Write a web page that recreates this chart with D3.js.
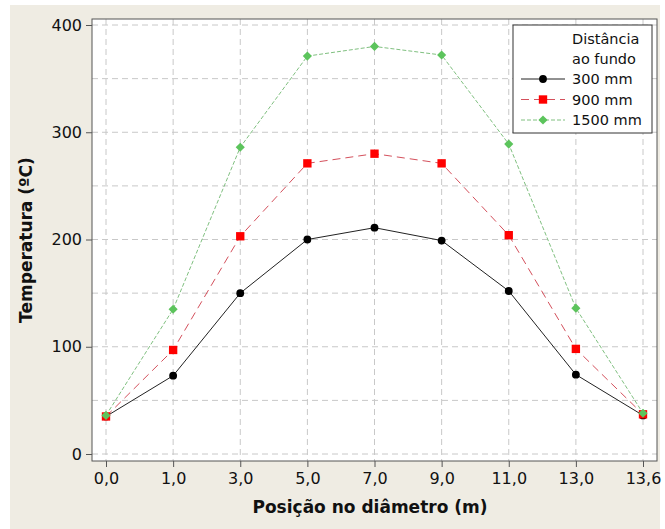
<!DOCTYPE html>
<html>
<head>
<meta charset="utf-8">
<script src="https://cdn.jsdelivr.net/npm/d3@7"></script>
<style>
  body { margin: 0; background: #ffffff; }
  text { font-family: "DejaVu Sans", Verdana, sans-serif; }
</style>
</head>
<body>
<svg id="vis"></svg>
<script>
const WIDTH = 665;
const HEIGHT = 529;

// dados
const posicoes = ["0,0", "1,0", "3,0", "5,0", "7,0", "9,0", "11,0", "13,0", "13,6"];
const serie300 = [35, 73, 150, 200, 211, 199, 152, 74, 36];
const serie900 = [35, 97, 203, 271, 280, 271, 204, 98, 37];
const serie1500 = [36, 135, 286, 371, 380, 372, 289, 136, 38];
const nomesSeries = ["300 mm", "900 mm", "1500 mm"];
const ticksY = [0, 100, 200, 300, 400];
const gradeY = [0, 50, 100, 150, 200, 250, 300, 350, 400];

// losango = quadrado girado 45 graus
const series = [
    { nome: nomesSeries[0], valores: serie300, cor: "#000000", corLinha: "#222222", traco: null, forma: d3.symbolCircle, tam: 48, rot: 0 },
    { nome: nomesSeries[1], valores: serie900, cor: "#ff0000", corLinha: "#d4505c", traco: "8,5", forma: d3.symbolSquare, tam: 70, rot: 0 },
    { nome: nomesSeries[2], valores: serie1500, cor: "#5cc45c", corLinha: "#80c080", traco: "4,2", forma: d3.symbolSquare, tam: 42, rot: 45 }
];

const area = { left: 92, right: 657, top: 19, bottom: 461 };

const svg = d3.select("#vis")
    .attr("width", WIDTH)
    .attr("height", HEIGHT);

// fundo bege
svg.append("rect")
    .attr("x", 10).attr("y", 5)
    .attr("width", 650).attr("height", 524)
    .attr("fill", "#efece3");

svg.append("rect")
    .attr("x", area.left).attr("y", area.top)
    .attr("width", area.right - area.left).attr("height", area.bottom - area.top)
    .attr("fill", "#ffffff");

const escalaX = d3.scalePoint()
    .domain(posicoes)
    .range([area.left + 14, area.right - 14]);

const escalaY = d3.scaleLinear()
    .domain([0, 400])
    .range([454, 25]);

// grade
svg.append("g")
    .selectAll("line")
    .data(gradeY)
    .join("line")
    .attr("x1", area.left).attr("x2", area.right)
    .attr("y1", d => escalaY(d)).attr("y2", d => escalaY(d))
    .attr("stroke", "#c8c8c8")
    .attr("stroke-dasharray", "6,4");

svg.append("g")
    .selectAll("line")
    .data(posicoes)
    .join("line")
    .attr("x1", d => escalaX(d)).attr("x2", d => escalaX(d))
    .attr("y1", area.top).attr("y2", area.bottom)
    .attr("stroke", "#c8c8c8")
    .attr("stroke-dasharray", "6,4");

// borda
svg.append("rect")
    .attr("x", area.left).attr("y", area.top)
    .attr("width", area.right - area.left).attr("height", area.bottom - area.top)
    .attr("fill", "none")
    .attr("stroke", "#555555");

// eixos
const ejeY = d3.axisLeft(escalaY).tickValues(ticksY).tickSize(6).tickPadding(4);
const gY = svg.append("g")
    .attr("transform", `translate(${area.left}, 0)`)
    .call(ejeY);
gY.select(".domain").remove();

const ejeX = d3.axisBottom(escalaX).tickSize(6).tickPadding(6);
const gX = svg.append("g")
    .attr("transform", `translate(0, ${area.bottom})`)
    .call(ejeX);
gX.select(".domain").remove();

[gX, gY].forEach(g => {
    g.selectAll("line").attr("stroke", "#555555");
    g.selectAll("text")
        .attr("fill", "#111111")
        .style("font-size", "16px")
        .style("font-family", "DejaVu Sans, sans-serif");
});

svg.append("text")
    .attr("x", 370)
    .attr("y", 513)
    .attr("text-anchor", "middle")
    .attr("font-weight", "bold")
    .attr("font-size", "17px")
    .attr("fill", "#111111")
    .text("Posição no diâmetro (m)");

svg.append("text")
    .attr("transform", `translate(32, 240) rotate(-90)`)
    .attr("text-anchor", "middle")
    .attr("font-weight", "bold")
    .attr("font-size", "17px")
    .attr("fill", "#111111")
    .text("Temperatura (ºC)");

// linhas e marcadores
const gerador = d3.line()
    .x((d, i) => escalaX(posicoes[i]))
    .y(d => escalaY(d));

series.forEach(s => {
    svg.append("path")
        .attr("d", gerador(s.valores))
        .attr("fill", "none")
        .attr("stroke", s.corLinha)
        .attr("stroke-width", 1)
        .attr("stroke-dasharray", s.traco);
});

series.forEach(s => {
    svg.append("g")
        .selectAll("path")
        .data(s.valores)
        .join("path")
        .attr("transform", (d, i) => `translate(${escalaX(posicoes[i])}, ${escalaY(d)}) rotate(${s.rot})`)
        .attr("d", d3.symbol().type(s.forma).size(s.tam))
        .attr("fill", s.cor);
});

// legenda
const leg = svg.append("g").attr("transform", "translate(513, 25)");
leg.append("rect")
    .attr("width", 139).attr("height", 108)
    .attr("fill", "#ffffff")
    .attr("stroke", "#333333");

leg.append("text").attr("x", 59).attr("y", 19).attr("font-size", "14.5px").attr("fill", "#111").text("Distância");
leg.append("text").attr("x", 59).attr("y", 39).attr("font-size", "14.5px").attr("fill", "#111").text("ao fundo");

series.forEach((s, i) => {
    const y = 54 + i * 20.5;
    leg.append("line")
        .attr("x1", 8).attr("x2", 52)
        .attr("y1", y).attr("y2", y)
        .attr("stroke", s.corLinha)
        .attr("stroke-dasharray", s.traco);
    leg.append("path")
        .attr("transform", `translate(30, ${y}) rotate(${s.rot})`)
        .attr("d", d3.symbol().type(s.forma).size(s.tam))
        .attr("fill", s.cor);
    leg.append("text")
        .attr("x", 59).attr("y", y + 5)
        .attr("font-size", "14.5px")
        .attr("fill", "#111")
        .text(s.nome);
});
</script>
</body>
</html>
